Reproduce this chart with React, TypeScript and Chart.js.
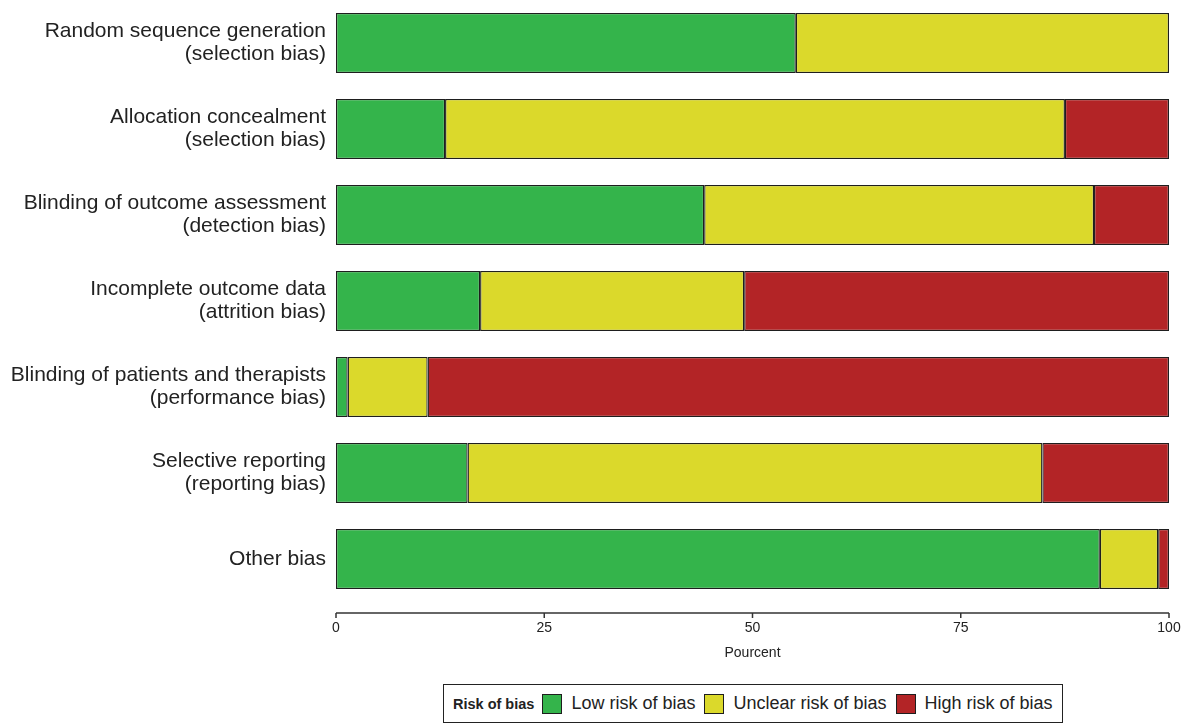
import React, { useEffect, useRef } from "react";
import { Chart, registerables } from "chart.js";

Chart.register(...registerables);

const categories: string[][] = [
  ["Random sequence generation", "(selection bias)"],
  ["Allocation concealment", "(selection bias)"],
  ["Blinding of outcome assessment", "(detection bias)"],
  ["Incomplete outcome data", "(attrition bias)"],
  ["Blinding of patients and therapists", "(performance bias)"],
  ["Selective reporting", "(reporting bias)"],
  ["Other bias"],
];
const lowRisk = [55.2, 13.1, 44.2, 17.3, 1.4, 15.8, 91.7];
const unclearRisk = [44.8, 74.4, 46.8, 31.7, 9.6, 69.0, 7.0];
const highRisk = [0, 12.5, 9.0, 51.0, 89.0, 15.2, 1.3];
const xTicks = [0, 25, 50, 75, 100];
const seriesNames = ["Low risk of bias", "Unclear risk of bias", "High risk of bias"];
const legendTitle = "Risk of bias";
const axisTitle = "Pourcent";

const GREEN = "#34b44b";
const YELLOW = "#dbd92b";
const RED = "#b32426";
const EDGE = "#1e1e1e";
const FONT = "'Liberation Sans', Arial, Helvetica, sans-serif";

const axisPlugin = {
  id: "offsetAxis",
  afterDraw(chart: any) {
    const ctx = chart.ctx;
    const x = chart.scales.x;
    const y0 = chart.chartArea.bottom + 11;
    ctx.save();
    ctx.strokeStyle = "#333";
    ctx.lineWidth = 1.5;
    ctx.beginPath();
    ctx.moveTo(x.getPixelForValue(xTicks[0]), y0);
    ctx.lineTo(x.getPixelForValue(xTicks[xTicks.length - 1]), y0);
    ctx.stroke();
    for (const t of xTicks) {
      const px = x.getPixelForValue(t);
      ctx.beginPath();
      ctx.moveTo(px, y0);
      ctx.lineTo(px, y0 + 5);
      ctx.stroke();
    }
    ctx.restore();
  },
};

export default function App() {
  const ref = useRef<HTMLCanvasElement | null>(null);

  useEffect(() => {
    document.body.style.margin = "0";
    if (!ref.current) return;
    const colors = [GREEN, YELLOW, RED];
    const values = [lowRisk, unclearRisk, highRisk];
    const chart = new Chart(ref.current, {
      type: "bar",
      data: {
        labels: categories as any,
        datasets: seriesNames.map((name, i) => ({
          label: name,
          data: values[i],
          backgroundColor: colors[i],
          borderColor: EDGE,
          borderWidth: 1.3,
          borderSkipped: false,
          categoryPercentage: 1,
          barPercentage: 0.7,
        })),
      },
      options: {
        indexAxis: "y",
        animation: false,
        responsive: false,
        maintainAspectRatio: false,
        layout: { padding: { top: 0, right: 17, bottom: 0, left: 0 } },
        plugins: {
          legend: { display: false },
          tooltip: { enabled: false },
        },
        scales: {
          x: {
            stacked: true,
            min: 0,
            max: 100,
            grid: { display: false, drawTicks: false },
            border: { display: false },
            afterFit: (s: any) => {
              s.height = 68;
              s.paddingLeft = 0;
              s.paddingRight = 0;
            },
            afterBuildTicks: (s: any) => {
              s.ticks = xTicks.map((v) => ({ value: v }));
            },
            ticks: {
              padding: 18,
              color: "#222",
              font: { family: FONT, size: 14 },
              maxRotation: 0,
            },
            title: {
              display: true,
              text: axisTitle,
              color: "#222",
              font: { family: FONT, size: 14 },
              padding: { top: 0, bottom: 8 },
            },
          },
          y: {
            stacked: true,
            grid: { display: false, drawTicks: false },
            border: { display: false },
            afterFit: (s: any) => {
              s.width = 336;
              s.paddingTop = 0;
              s.paddingBottom = 0;
            },
            ticks: {
              padding: 10,
              color: "#222",
              font: { family: FONT, size: 21, lineHeight: 1.1 },
            },
          },
        },
      },
      plugins: [axisPlugin],
    });
    return () => chart.destroy();
  }, []);

  const swatch = (c: string) => (
    <span
      style={{
        display: "inline-block",
        width: 20,
        height: 20,
        background: c,
        border: `1.5px solid ${EDGE}`,
        boxSizing: "border-box",
        marginRight: 9,
      }}
    />
  );

  return (
    <div style={{ position: "relative", width: 1186, height: 724, background: "#fff" }}>
      <canvas ref={ref} width={1186} height={670} style={{ display: "block" }} />
      <div
        style={{
          position: "absolute",
          left: 443,
          top: 684,
          width: 620,
          height: 39,
          boxSizing: "border-box",
          border: "1.5px solid #222",
          display: "flex",
          alignItems: "center",
          paddingLeft: 9,
          fontFamily: FONT,
          color: "#222",
          whiteSpace: "nowrap",
        }}
      >
        <span style={{ fontWeight: "bold", fontSize: 14.5, marginRight: 8 }}>{legendTitle}</span>
        {swatch(GREEN)}
        <span style={{ fontSize: 18, marginRight: 9 }}>{seriesNames[0]}</span>
        {swatch(YELLOW)}
        <span style={{ fontSize: 18, marginRight: 9 }}>{seriesNames[1]}</span>
        {swatch(RED)}
        <span style={{ fontSize: 18 }}>{seriesNames[2]}</span>
      </div>
    </div>
  );
}
